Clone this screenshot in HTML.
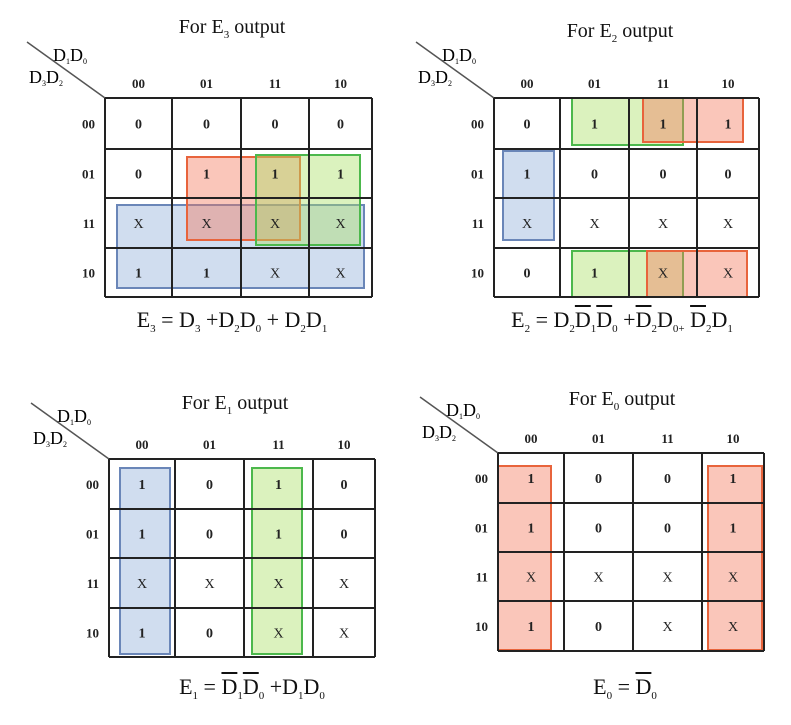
<!DOCTYPE html>
<html><head><meta charset="utf-8">
<style>
body{margin:0;background:#fff;width:791px;height:725px;overflow:hidden;position:relative;font-family:"Liberation Serif",serif;}
svg{position:absolute;left:0;top:0}
.t{position:absolute;font-size:20px;color:#111;white-space:nowrap;transform:translateX(-50%)}
.eq{position:absolute;font-size:22px;color:#111;white-space:nowrap;transform:translateX(-50%)}
sub{font-size:11px;vertical-align:-5px}
.ov{text-decoration:overline}
</style></head><body>
<svg id="s" width="791" height="725"></svg>
<div class="t" style="left:232px;top:16px">For E<sub>3</sub> output</div>
<div class="t" style="left:620px;top:20px">For E<sub>2</sub> output</div>
<div class="t" style="left:235px;top:392px">For E<sub>1</sub> output</div>
<div class="t" style="left:622px;top:388px">For E<sub>0</sub> output</div>
<div class="eq" style="left:232px;top:307px">E<sub>3</sub> = D<sub>3</sub> +D<sub>2</sub>D<sub>0</sub> + D<sub>2</sub>D<sub>1</sub></div>
<div class="eq" style="left:622px;top:307px">E<sub>2</sub> = D<sub>2</sub><span class="ov">D</span><sub>1</sub><span class="ov">D</span><sub>0</sub> +<span class="ov">D</span><sub>2</sub>D<sub>0+</sub> <span class="ov">D</span><sub>2</sub>D<sub>1</sub></div>
<div class="eq" style="left:252px;top:674px">E<sub>1</sub> = <span class="ov">D</span><sub>1</sub><span class="ov">D</span><sub>0</sub> +D<sub>1</sub>D<sub>0</sub></div>
<div class="eq" style="left:625px;top:674px">E<sub>0</sub> = <span class="ov">D</span><sub>0</sub></div>
<script>
const colLabels=["00","01","11","10"];
const rowLabels=["00","01","11","10"];
const valsE3=[["0","0","0","0"],["0","1","1","1"],["X","X","X","X"],["1","1","X","X"]];
const valsE2=[["0","1","1","1"],["1","0","0","0"],["X","X","X","X"],["0","1","X","X"]];
const valsE1=[["1","0","1","0"],["1","0","1","0"],["X","X","X","X"],["1","0","X","X"]];
const valsE0=[["1","0","0","1"],["1","0","0","1"],["X","X","X","X"],["1","0","X","X"]];
const maps=[
 {n:"e3",v:valsE3,cx:[105,172,241,309,372],ry:[98,149,198,248,297],
  g:[["blue",117,205,364,288],["red",187,157,300,240],["green",256,155,360,245]]},
 {n:"e2",v:valsE2,cx:[494,560,629,697,759],ry:[98,149,198,248,297],
  g:[["green",572,98,683,145],["red",643,98,743,142],["blue",503,151,554,240],["green",572,251,683,297],["red",647,251,747,297]]},
 {n:"e1",v:valsE1,cx:[109,175,244,313,375],ry:[459,509,558,608,657],
  g:[["blue",120,468,170,654],["green",252,468,302,654]]},
 {n:"e0",v:valsE0,cx:[498,564,633,702,764],ry:[453,503,552,601,651],
  g:[["red",498,466,551,650],["red",708,466,762,650]]}
];
const col={red:["rgba(242,120,90,0.42)","#e8643c"],green:["rgba(170,225,100,0.42)","#4cb84c"],blue:["rgba(110,150,205,0.32)","#6a86b8"]};
const s=document.getElementById('s');
const NS="http://www.w3.org/2000/svg";
function mk(t,a){const e=document.createElementNS(NS,t);for(const k in a)e.setAttribute(k,a[k]);s.appendChild(e);return e;}
maps.forEach(m=>{
 const x0=m.cx[0],y0=m.ry[0],x1=m.cx[4],y1=m.ry[4];
 let d=mk('line',{x1:x0-78,y1:y0-56,x2:x0,y2:y0,stroke:'#555','stroke-width':1.5});
 
 
 let t1=mk('text',{x:x0-52,y:y0-37,'font-size':18,'font-family':'Liberation Serif'});t1.innerHTML='D<tspan font-size="8" dy="3">1</tspan><tspan dy="-3">D</tspan><tspan font-size="8" dy="3">0</tspan>';
 
 
 let t2=mk('text',{x:x0-76,y:y0-15,'font-size':18,'font-family':'Liberation Serif'});t2.innerHTML='D<tspan font-size="8" dy="3">3</tspan><tspan dy="-3">D</tspan><tspan font-size="8" dy="3">2</tspan>';
 
 
 colLabels.forEach((c,i)=>{const e=mk('text',{x:(m.cx[i]+m.cx[i+1])/2,y:y0-10,'font-size':13,'text-anchor':'middle','font-family':'Liberation Serif','font-weight':'bold',fill:'#222'});e.textContent=c;
  
  });
 rowLabels.forEach((r,j)=>{const e=mk('text',{x:x0-10,y:(m.ry[j]+m.ry[j+1])/2+5,'font-size':13,'text-anchor':'end','font-family':'Liberation Serif','font-weight':'bold',fill:'#222'});e.textContent=r;
  
  });
 m.g.forEach(g=>{const r=mk('rect',{x:g[1],y:g[2],width:g[3]-g[1],height:g[4]-g[2],fill:col[g[0]][0],stroke:col[g[0]][1],'stroke-width':2});
  
  });
 for(let i=0;i<5;i++){
  let a=mk('line',{x1:m.cx[i],y1:y0,x2:m.cx[i],y2:y1,stroke:'#222','stroke-width':2});
  
  
  let b=mk('line',{x1:x0,y1:m.ry[i],x2:x1,y2:m.ry[i],stroke:'#222','stroke-width':2});
  
  
 }
 m.v.forEach((row,j)=>row.forEach((v,i)=>{
  const isX=v==="X";
  const e=mk('text',{x:(m.cx[i]+m.cx[i+1])/2,y:(m.ry[j]+m.ry[j+1])/2+5,'font-size':14,'text-anchor':'middle','font-family':'Liberation Serif','font-weight':isX?'normal':'bold',fill:'#222'});
  e.textContent=v;
  
  
 }));
});
</script>
</body></html>
